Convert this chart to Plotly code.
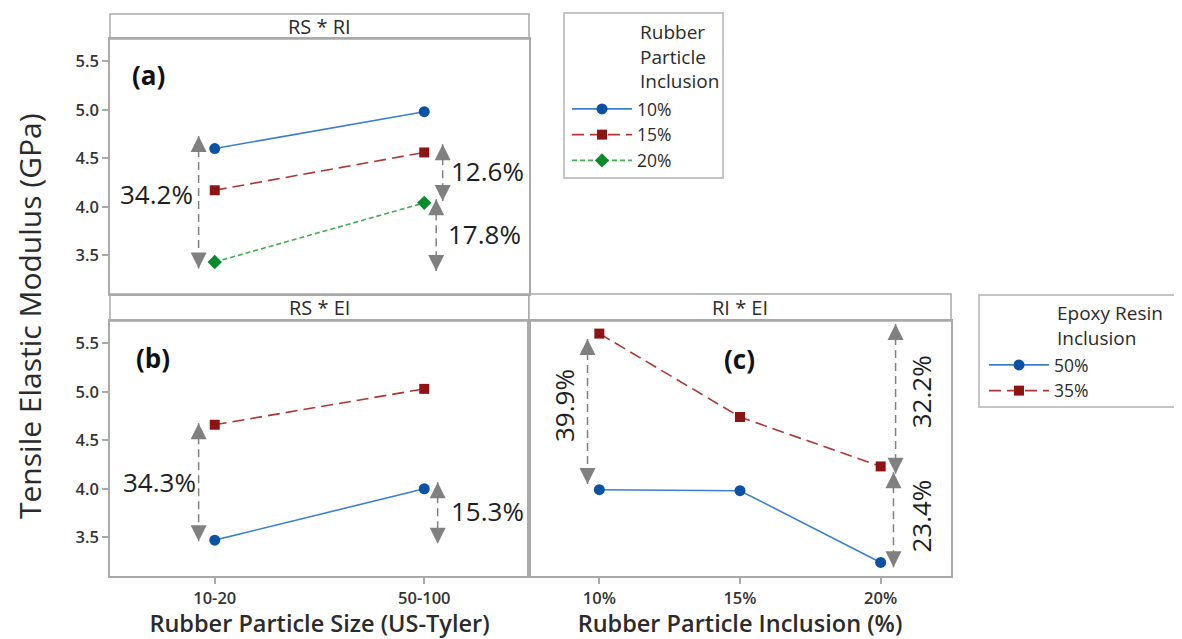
import plotly.graph_objects as go

# The page body adds an 8px offset, so the figure is drawn 8px smaller
OFF = 8
W, H = 1182 - OFF, 639 - OFF

# ---------------- data ----------------
particle_sizes = ["10-20", "50-100"]
rubber_inclusion = ["10%", "15%", "20%"]
epoxy_inclusion = ["50%", "35%"]

# (a) RS * RI : one series per rubber particle inclusion, over particle size
rs_ri_10 = [4.60, 4.98]
rs_ri_15 = [4.17, 4.56]
rs_ri_20 = [3.43, 4.04]

# (b) RS * EI : one series per epoxy resin inclusion, over particle size
rs_ei_50 = [3.47, 4.00]
rs_ei_35 = [4.66, 5.03]

# (c) RI * EI : one series per epoxy resin inclusion, over rubber inclusion
ri_ei_50 = [3.99, 3.98, 3.24]
ri_ei_35 = [5.60, 4.74, 4.23]

# percentage-difference labels
pct_a = ["34.2%", "12.6%", "17.8%"]
pct_b = ["34.3%", "15.3%"]
pct_c = ["39.9%", "32.2%", "23.4%"]

y_ticks = [3.5, 4.0, 4.5, 5.0, 5.5]

legend1_title = "Rubber<br>Particle<br>Inclusion"
legend2_title = "Epoxy Resin<br>Inclusion"

# ---------------- styles ----------------
FONT = "Open Sans"
TXT = "#2b2b2b"
GRID = "#a9a9a9"
ARROW = "#808080"
LEG_BORDER = "#c4c4c4"
Y_RANGE = [3.1, 5.73]

blue = dict(m="#0b52a3", l="#3b7fcf", dash="solid", sym="circle", size=11)
red = dict(m="#8e1414", l="#ad3535", dash="12px,6px", sym="square", size=10)
green = dict(m="#0b8a2b", l="#3fae50", dash="5px,3px", sym="diamond", size=11)


def px_x(p):
    return (p - OFF) / W


def px_y(p):
    return 1 - (p - OFF) / H


fig = go.Figure()


def series(x, y, name, st, xa, ya, legend, show):
    fig.add_trace(go.Scatter(
        x=x, y=y, name=name, mode="lines+markers",
        line=dict(color=st["l"], width=1.6, dash=st["dash"]),
        marker=dict(symbol=st["sym"], size=st["size"], color=st["m"]),
        xaxis=xa, yaxis=ya, legend=legend, showlegend=show,
        hoverinfo="x+y+name"))


idx2 = list(range(len(particle_sizes)))
idx3 = list(range(len(rubber_inclusion)))

# panel (a)
series(idx2, rs_ri_10, rubber_inclusion[0], blue, "x", "y", "legend", True)
series(idx2, rs_ri_15, rubber_inclusion[1], red, "x", "y", "legend", True)
series(idx2, rs_ri_20, rubber_inclusion[2], green, "x", "y", "legend", True)
# panel (b)
series(idx2, rs_ei_50, epoxy_inclusion[0], blue, "x2", "y2", "legend2", True)
series(idx2, rs_ei_35, epoxy_inclusion[1], red, "x2", "y2", "legend2", True)
# panel (c)
series(idx3, ri_ei_50, epoxy_inclusion[0], blue, "x3", "y3", "legend2", False)
series(idx3, ri_ei_35, epoxy_inclusion[1], red, "x3", "y3", "legend2", False)

# ---------------- double arrows with labels (annotation geometry) ----------------
# (axis suffix, x position, top tip, bottom tip, label x, label y, label text, angle)
arrows = [
    ("", -0.077, 4.73, 3.363, -0.277, 4.129, pct_a[0], 0),
    ("", 1.088, 4.644, 4.06, 1.302, 4.366, pct_a[1], 0),
    ("", 1.057, 4.077, 3.338, 1.286, 3.716, pct_a[2], 0),
    ("2", -0.077, 4.675, 3.459, -0.265, 4.074, pct_b[0], 0),
    ("2", 1.064, 4.067, 3.432, 1.301, 3.775, pct_b[1], 0),
    ("3", -0.084, 5.545, 4.05, -0.255, 4.858, pct_c[0], -90),
    ("3", 2.106, 5.70, 4.154, 2.287, 4.995, pct_c[1], -90),
    ("3", 2.091, 4.17, 3.19, 2.287, 3.713, pct_c[2], -90),
]

annotations = []
for ax, xa, yt, yb, lx, ly, txt, ang in arrows:
    fig.add_trace(go.Scatter(
        x=[xa, xa], y=[yt, yb], mode="lines+markers",
        line=dict(color=ARROW, width=1.5, dash="8px,5px"),
        marker=dict(symbol=["arrow-up", "arrow-down"], size=16, color=ARROW),
        xaxis="x" + ax, yaxis="y" + ax, showlegend=False, hoverinfo="skip"))
    annotations.append(dict(
        x=lx, y=ly, xref="x" + ax, yref="y" + ax, text=txt, showarrow=False,
        textangle=ang, font=dict(family=FONT, size=26, color="#1e1e1e"),
        xanchor="center", yanchor="middle"))

# panel letters
for ax, lx, ly, txt in [("", -0.314, 5.36, "(a)"), ("2", -0.295, 5.353, "(b)"),
                        ("3", 0.993, 5.34, "(c)")]:
    annotations.append(dict(
        x=lx, y=ly, xref="x" + ax, yref="y" + ax, text="<b>%s</b>" % txt,
        showarrow=False, font=dict(family=FONT, size=26, color="#111111"),
        xanchor="center", yanchor="middle"))

# panel headers
shapes = []
for ax, title, hpx in [("", "RS * RI", 25), ("2", "RS * EI", 27), ("3", "RI * EI", 27)]:
    h = hpx / 255.0
    shapes.append(dict(type="rect", xref="x%s domain" % ax, yref="y%s domain" % ax,
                       x0=0, x1=1, y0=1, y1=1 + h,
                       line=dict(color=GRID, width=1.5), fillcolor="white", layer="below"))
    annotations.append(dict(
        x=0.5, y=1 + h / 2, xref="x%s domain" % ax, yref="y%s domain" % ax,
        text=title, showarrow=False, xanchor="center", yanchor="middle",
        font=dict(family=FONT, size=20, color=TXT)))

# y-axis title spanning both rows
annotations.append(dict(
    x=px_x(29), y=px_y(316), xref="paper", yref="paper",
    text="Tensile Elastic Modulus (GPa)", textangle=-90, showarrow=False,
    xanchor="center", yanchor="middle",
    font=dict(family=FONT, size=30, color=TXT)))

# legend boxes and titles (titles aligned with the entry text column)
LEG_FONT = dict(family=FONT, size=17.5, color=TXT)
LEG_TITLE_FONT = dict(family=FONT, size=19, color=TXT)
for (x0, x1, y0, y1), (tx, ty), ttl in [((564, 723, 13, 178), (638, 56), legend1_title),
                                        ((979, 1180, 295, 407), (1055, 325), legend2_title)]:
    shapes.append(dict(type="rect", xref="paper", yref="paper",
                       x0=px_x(x0), x1=px_x(x1), y0=px_y(y1), y1=px_y(y0),
                       line=dict(color=LEG_BORDER, width=2), fillcolor="rgba(0,0,0,0)"))
    annotations.append(dict(x=px_x(tx), y=px_y(ty), xref="paper", yref="paper",
                            text=ttl, showarrow=False, xanchor="left", yanchor="middle",
                            align="left", font=LEG_TITLE_FONT))

tickfont = dict(family=FONT, size=16.5, color="#333333", weight=600)
titlefont = dict(family=FONT, size=23.5, color=TXT, weight=600)

common_axis = dict(showgrid=False, zeroline=False, showline=True, mirror=True,
                   linecolor=GRID, linewidth=1.5, automargin=False,
                   tickcolor=GRID, tickwidth=1.5, ticklen=6, tickfont=tickfont)

fig.update_layout(
    width=W, height=H, template="none",
    paper_bgcolor="white", plot_bgcolor="white",
    margin=dict(l=0, r=0, t=0, b=0, pad=0),
    showlegend=True,
    xaxis=dict(common_axis, domain=[px_x(110), px_x(529)], anchor="y",
               range=[-0.5, 1.5], tickvals=idx2, ticks="", showticklabels=False),
    yaxis=dict(common_axis, domain=[px_y(294), px_y(39)], anchor="x",
               range=Y_RANGE, tickvals=y_ticks, tickformat=".1f", ticks="outside"),
    xaxis2=dict(common_axis, domain=[px_x(110), px_x(529)], anchor="y2",
                range=[-0.5, 1.5], tickvals=idx2, ticktext=particle_sizes,
                ticks="outside",
                title=dict(text="Rubber Particle Size (US-Tyler)", font=titlefont,
                           standoff=10)),
    yaxis2=dict(common_axis, domain=[px_y(576), px_y(321)], anchor="x2",
                range=Y_RANGE, tickvals=y_ticks, tickformat=".1f", ticks="outside"),
    xaxis3=dict(common_axis, domain=[px_x(529), px_x(951)], anchor="y3",
                range=[-0.5, 2.5], tickvals=idx3, ticktext=rubber_inclusion,
                ticks="outside",
                title=dict(text="Rubber Particle Inclusion (%)", font=titlefont,
                           standoff=10)),
    yaxis3=dict(common_axis, domain=[px_y(576), px_y(321)], anchor="x3",
                range=Y_RANGE, tickvals=y_ticks, ticks="", showticklabels=False),
    legend=dict(x=px_x(567), y=px_y(91), xanchor="left", yanchor="top",
                bgcolor="rgba(0,0,0,0)", borderwidth=0,
                font=LEG_FONT, itemwidth=60, tracegroupgap=0),
    legend2=dict(x=px_x(984), y=px_y(347), xanchor="left", yanchor="top",
                 bgcolor="rgba(0,0,0,0)", borderwidth=0,
                 font=LEG_FONT, itemwidth=60, tracegroupgap=0),
    annotations=annotations,
    shapes=shapes,
)

fig.write_html("out.html")
